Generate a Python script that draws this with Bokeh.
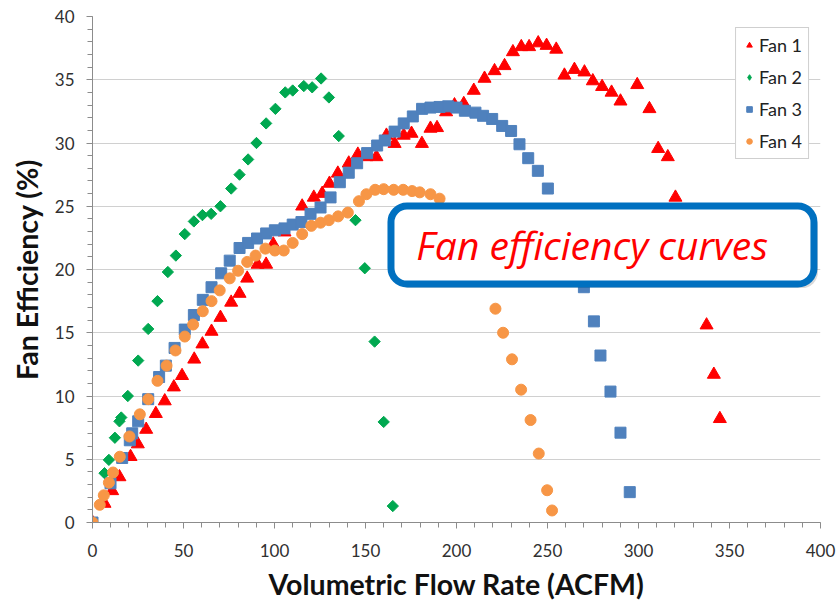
from bokeh.plotting import figure
from bokeh.models import Range1d, SingleIntervalTicker, BoxAnnotation, Label
from bokeh.embed import file_html
from bokeh.resources import INLINE

# ---- data ----
fan1_x = [0, 6.6, 10.8, 14.8, 20.9, 24.9, 29.5, 34.8, 39.7, 44.7, 49.2, 55.9, 60.4, 65.4, 70.3, 76.2,
          80.8, 85, 90.7, 95.4, 99.3, 105.5, 115.2, 121.6, 126.2, 130.2, 134.8, 140.8, 145.8, 150.5,
          156, 161.5, 166, 171, 175.3, 181, 185.7, 189.3, 194.3, 198.9, 204, 209.5, 215.4, 220.9,
          226.4, 231, 235.6, 239.9, 244.9, 249.5, 254.8, 259.3, 264.8, 270.3, 274.9, 280, 285.2,
          290.1, 299.3, 306, 310.8, 316.1, 320.3, 337.4, 341.4, 344.7]
fan1_y = [0, 1.5, 2.5, 3.6, 5.2, 6.2, 7.35, 8.6, 9.6, 10.7, 11.6, 12.9, 14.1, 15.1, 16.2, 17.4,
          18.1, 19.3, 20.4, 20.4, 22.0, 22.95, 25.0, 25.7, 26.0, 26.8, 27.6, 28.4, 29.1, 28.9,
          28.9, 30.6, 29.95, 30.6, 30.75, 29.95, 31.15, 31.2, 32.45, 33.0, 33.1, 34.15, 35.1, 35.7,
          36.1, 37.2, 37.6, 37.6, 37.9, 37.7, 37.4, 35.35, 35.8, 35.6, 34.9, 34.45, 34.0,
          33.3, 34.6, 32.7, 29.55, 28.9, 25.7, 15.6, 11.7, 8.2]

fan2_x = [0, 6.6, 9.0, 12.3, 14.8, 15.8, 19.4, 25.1, 30.6, 35.7, 41.4, 45.8, 50.7, 55.7, 60.4, 65.2,
          70.3, 76.2, 80.8, 85.5, 90.1, 95.4, 100.5, 105.9, 110, 116.1, 120.7, 125.6, 129.9, 135.3,
          144.5, 149.6, 155, 160, 165]
fan2_y = [0, 3.9, 4.95, 6.7, 8.0, 8.3, 10.0, 12.8, 15.3, 17.5, 19.8, 21.1, 22.8, 23.8, 24.3, 24.4,
          25.0, 26.4, 27.5, 28.7, 30.0, 31.55, 32.7, 34.0, 34.15, 34.5, 34.4, 35.1, 33.6, 30.55,
          23.9, 20.1, 14.3, 7.95, 1.3]

fan3_x = [0, 9.9, 16.3, 20.5, 21.8, 25.1, 30.6, 36.6, 40.3, 45.1, 50.7, 55.7, 60.6, 65.4, 70.7, 75.4,
          80.8, 85.5, 90.4, 95.4, 100.2, 105.5, 110, 114.8, 119.8, 125.3, 130.8, 135.9, 140.8, 145.4,
          150.9, 156.4, 160.6, 166, 171, 176, 181.1, 185.7, 190.7, 195.4, 200, 204.6, 210.4, 214.6,
          219.6, 225.1, 230, 234.6, 239.4, 244.7, 250.2, 270, 275.5, 279.1, 284.6, 290.1, 295.2]
fan3_y = [0, 3.1, 5.1, 6.5, 7.05, 8.0, 9.75, 11.5, 12.4, 13.8, 15.25, 16.4, 17.6, 18.6, 19.7, 20.7,
          21.7, 22.1, 22.45, 22.85, 23.1, 23.25, 23.55, 23.75, 24.4, 24.9, 25.7, 26.9, 27.65, 28.4,
          29.2, 29.8, 30.2, 30.9, 31.55, 32.1, 32.7, 32.8, 32.85, 32.9, 32.8, 32.55, 32.4, 32.15,
          31.9, 31.35, 30.95, 29.9, 28.8, 27.8, 26.4, 18.6, 15.9, 13.2, 10.35, 7.1, 2.4]

fan4_x = [0, 4, 6.2, 9, 11.3, 15, 20.3, 26, 30.6, 35.7, 40.7, 45.6, 50.7, 55.3, 60.6, 65.4, 69.9,
          75.4, 80, 85, 89.6, 95, 100.2, 105.1, 110, 115.2, 120.2, 125.3, 129.9, 135, 140.3, 146.4,
          150.5, 155.3, 160, 165.5, 170.7, 175.6, 179.8, 185.7, 190.7, 221.4, 225.6, 230.5, 235.5,
          240.7, 245.2, 249.8, 252.5]
fan4_y = [0, 1.4, 2.15, 3.15, 3.95, 5.2, 6.8, 8.55, 9.75, 11.2, 12.4, 13.6, 14.7, 15.65, 16.7, 17.5, 18.35,
          19.3, 19.9, 20.6, 21.1, 21.65, 21.5, 21.5, 22.1, 22.8, 23.45, 23.7, 23.9, 24.2, 24.5, 25.4,
          25.95, 26.3, 26.35, 26.3, 26.3, 26.2, 26.1, 25.95, 25.6, 16.9, 15.0, 12.9, 10.5,
          8.1, 5.45, 2.55, 0.95]

x_title = "Volumetric Flow Rate (ACFM)"
y_title = "Fan Efficiency (%)"
note_text = "Fan efficiency curves"

# ---- figure ----
p = figure(width=839, height=608, x_range=Range1d(0, 400), y_range=Range1d(0, 40),
           output_backend="svg", toolbar_location=None,
           min_border_left=92, min_border_right=19, min_border_top=16, min_border_bottom=86)
p.outline_line_color = None
p.background_fill_color = "white"
p.border_fill_color = "white"

p.xaxis.ticker = SingleIntervalTicker(interval=50, num_minor_ticks=5)
p.yaxis.ticker = SingleIntervalTicker(interval=5, num_minor_ticks=5)
p.xgrid.visible = False
p.ygrid.grid_line_color = "#D0D0D0"
p.ygrid.grid_line_width = 1

for ax in (p.xaxis[0], p.yaxis[0]):
    ax.axis_line_color = "#8C8C8C"
    ax.major_tick_line_color = "#8C8C8C"
    ax.minor_tick_line_color = "#8C8C8C"
    ax.major_tick_in = 0
    ax.major_tick_out = 6
    ax.minor_tick_in = 0
    ax.minor_tick_out = 5
    ax.major_label_text_font = "Lato"
    ax.major_label_text_font_size = "17px"
    ax.major_label_text_color = "#303030"
    ax.axis_label_text_font = "Lato"
    ax.axis_label_text_font_style = "bold"
    ax.axis_label_text_font_size = "28.5px"
    ax.axis_label_text_color = "#111111"

p.xaxis.axis_label = x_title
p.yaxis.axis_label = y_title
p.xaxis.major_label_standoff = 15
p.yaxis.major_label_standoff = 12
p.xaxis.axis_label_standoff = 7
p.yaxis.axis_label_standoff = 8

p.scatter(fan1_x, fan1_y, marker="triangle", size=13, color="#FF0000", legend_label="Fan 1")
# hidden diamond copy of Fan 2 only supplies the legend swatch;
# the visible points are drawn as 45-degree rotated squares
p.scatter(fan2_x, fan2_y, marker="diamond", size=12, color="#00A850",
          legend_label="Fan 2", visible=False)
p.scatter(fan2_x, fan2_y, marker="square", angle=0.785398, size=8, color="#00A850")
p.scatter(fan3_x, fan3_y, marker="square", size=11, color="#4F81BD", legend_label="Fan 3")
p.scatter(fan4_x, fan4_y, marker="circle", size=11, color="#F79646", legend_label="Fan 4")

lg = p.legend[0]
lg.location = "top_right"
lg.margin = 11
lg.padding = 6
lg.spacing = 10
lg.label_height = 20
lg.glyph_height = 20
lg.glyph_width = 14
lg.label_standoff = 3
lg.label_text_font = "Lato"
lg.label_text_font_size = "18px"
lg.label_text_color = "#222222"
lg.border_line_color = "#A0A0A0"
lg.border_line_width = 1
lg.background_fill_alpha = 1
lg.inactive_fill_alpha = 0

# callout box with shadow
shadow = BoxAnnotation(left=166.2, right=398.6, bottom=18.53, top=24.7,
                       fill_color="#000000", fill_alpha=0.15, line_color=None,
                       border_radius=16)
p.add_layout(shadow)
box = BoxAnnotation(left=164.0, right=396.4, bottom=18.85, top=25.02,
                    fill_color="white", fill_alpha=1, line_color="#0070C0",
                    line_width=7, line_alpha=1, border_radius=16)
p.add_layout(box)
p.add_layout(Label(x=274.5, y=22.0, text=note_text, text_font="Open Sans",
                   text_font_style="italic", text_font_size="39px", text_color="#FF0000",
                   text_align="center", text_baseline="alphabetic"))

open("out.html", "w").write(file_html(p, INLINE))
